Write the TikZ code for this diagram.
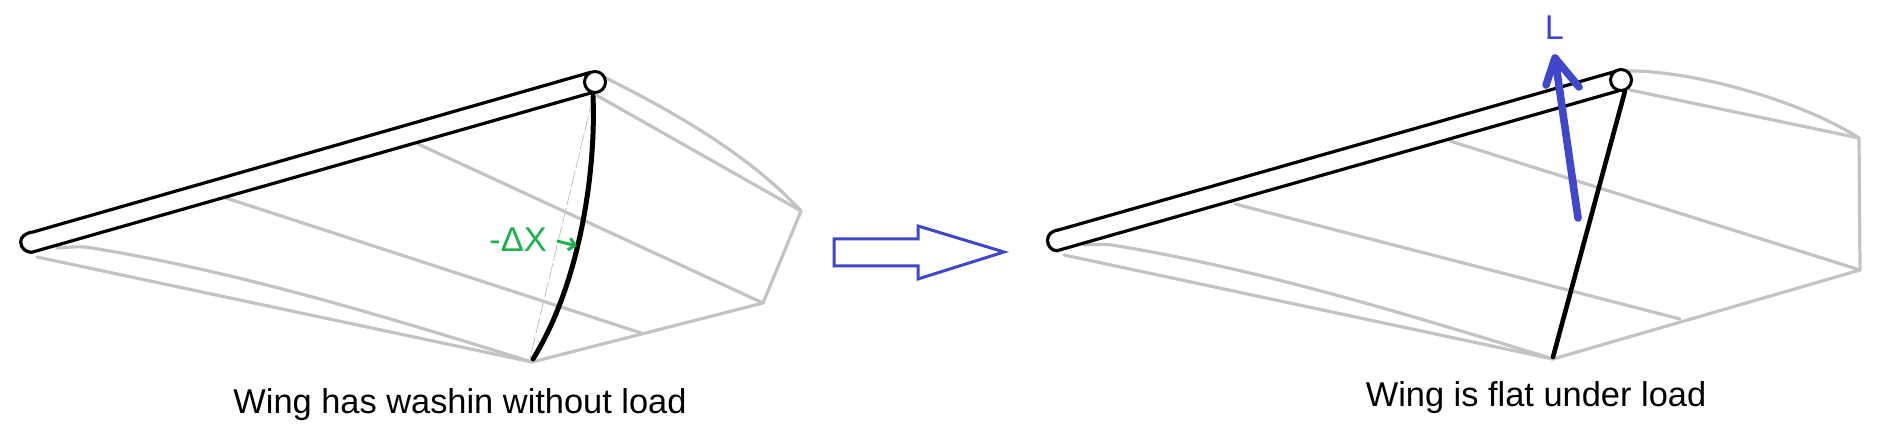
\documentclass[tikz,border=0pt]{standalone}
\usepackage{fontspec}
\setmainfont{Liberation Sans}
\usetikzlibrary{arrows.meta}
\definecolor{ribgrey}{RGB}{195,195,195}
\definecolor{liftblue}{RGB}{63,72,204}
\definecolor{deltagreen}{RGB}{29,177,76}
\tikzstyle{rib}=[draw=ribgrey,line width=1.6pt,line cap=round]
\tikzstyle{spar}=[draw=black,line width=1.6pt,line cap=round]
\tikzstyle{tipring}=[draw=black,fill=white,circle,inner sep=0pt,line width=1.5pt,minimum size=10.5pt]
\tikzstyle{caption}=[anchor=base,inner sep=0pt,font=\fontsize{17.2}{20}\selectfont]

\begin{document}
\begin{tikzpicture}[x=0.5pt,y=-0.5pt]
  \useasboundingbox (0,0) rectangle (1888,448);
  % points of the unloaded wing
  \foreach \place/\name in {{(596,95)/aa},
                            {(801,211)/ab},
                            {(763,303)/ac},
                            {(532,362)/ad},
                            {(418,144)/ae},
                            {(226,198)/af},
                            {(641,333)/ag},
                            {(37,257)/ah},
                            {(593,97)/ai},
                            {(530,358)/aj}}
    \node[coordinate] (\name) at \place {};
  % points of the loaded wing
  \foreach \place/\name in {{(1630,90)/ba},
                            {(1859,138)/bb},
                            {(1860,270)/bc},
                            {(1553,359)/bd},
                            {(1450,141)/be},
                            {(1235,204)/bf},
                            {(1680,319)/bg},
                            {(1064,255)/bh}}
    \node[coordinate] (\name) at \place {};
  \foreach \source/\dest in {aa/ab,ab/ac,ac/ad,ae/ac,af/ag,ah/ad,ba/bb,bb/bc,bc/bd,be/bc,bf/bg,bh/bd}
      \path[rib] (\source) -- (\dest);
  \draw[rib] (602,76) .. controls (660,105) and (745,150) .. (ab);
  \draw[rib] (57,248) .. controls (70,247) and (82,246) .. (92,248)
             .. controls (240,272) and (390,318) .. (ad);
  \draw[rib] (1627,71) .. controls (1690,70) and (1800,100) .. (bb);
  \draw[rib] (1084,245) .. controls (1097,244) and (1108,244) .. (1118,246)
             .. controls (1262,270) and (1410,315) .. (bd);
  \draw[ribgrey,line width=0.4pt,dash pattern=on 8pt off 1.5pt] (ai) -- (aj);

  % left wing
  \draw[spar] (590,72.5) -- (33,232) .. controls (25,233) and (20.7,237) .. (20.7,242)
        .. controls (20.7,248) and (26,252.5) .. (31.7,252.3) -- (591.7,92.7);
  \node[tipring] (ltip) at (595,82) {};
  \draw[spar,line width=2.5pt] (593,96) .. controls (596,165) and (582,280) .. (533,359);
  \node[caption,text=deltagreen] (dx) at (518,252) {-ΔX};
  \node[coordinate] (dxa) at (557,241) {};
  \node[coordinate] (dxb) at (577,246) {};
  \draw[deltagreen,line width=1.5pt,-{Straight Barb[length=3pt,width=6pt]}] (dxa) -- (dxb);
  \node[caption] (lcap) at (460,413) {Wing has washin without load};

  % block arrow between the wings
  \draw[liftblue,line width=1.5pt,fill=white] (834,239) -- (918,239) -- (918,226) -- (1004,252)
        -- (918,279) -- (918,266) -- (834,266) -- cycle;

  % right wing
  \draw[spar] (1617,71) -- (1058.4,230) .. controls (1051,231) and (1047.5,235) .. (1047.5,240.7)
        .. controls (1047.5,246) and (1052,251) .. (1057,250.7) -- (1618,91);
  \node[tipring] (rtip) at (1621,80) {};
  \draw[spar,line width=2.3pt] (1625,91) -- (1553,357);
  \node[coordinate] (la) at (1578,218) {};
  \node[coordinate] (lb) at (1555,58) {};
  \node[coordinate] (lc) at (1546,85) {};
  \node[coordinate] (ld) at (1579,87) {};
  \draw[liftblue,line width=3.8pt,line cap=round,line join=round] (la) -- (lb) (lc) -- (lb) -- (ld);
  \node[caption,text=liftblue] (lift) at (1554.5,40) {L};
  \node[caption] (rcap) at (1536,406) {Wing is flat under load};
\end{tikzpicture}
\end{document}
